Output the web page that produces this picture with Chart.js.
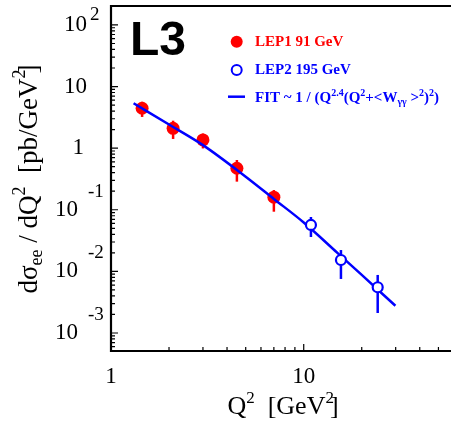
<!DOCTYPE html>
<html>
<head>
<meta charset="utf-8">
<script src="https://cdn.jsdelivr.net/npm/chart.js@4/dist/chart.umd.min.js"></script>
<style>
  html, body { margin: 0; padding: 0; background: #fff; overflow: hidden; }
  canvas { display: block; }
</style>
</head>
<body>
<canvas id="l3Chart" width="451" height="423"></canvas>
<script>
// values (Q^2 in GeV^2, dsigma/dQ^2 in pb/GeV^2)
const lep1Q2 = [1.45, 2.1, 3.0, 4.5, 7.0];
const lep1Sigma = [4.44, 2.10, 1.36, 0.472, 0.160];
const lep1Low = [3.21, 1.41, 0.99, 0.286, 0.093];
const lep1High = [5.67, 2.79, 1.73, 0.643, 0.209];

const lep2Q2 = [10.9, 15.6, 24.2];
const lep2Sigma = [0.0567, 0.0153, 0.00552];
const lep2Low = [0.0361, 0.00753, 0.00211];
const lep2High = [0.0764, 0.0222, 0.00875];

const fitQ2 = [1.31, 2, 3, 5, 7, 10, 15, 20, 29.9];
const fitSigma = [5.36, 2.42, 1.12, 0.344, 0.150, 0.0622, 0.0198, 0.00875, 0.00277];

const xMajor = [1, 10];
const xMinor = [2, 3, 4, 5, 6, 7, 8, 9, 20, 30, 40, 50];
const yExponents = [2, 1, 0, -1, -2, -3];

const RED = '#ff0000';
const BLUE = '#0000ff';
const SERIF = '"Liberation Serif", "Times New Roman", serif';

// draws a row of text pieces (normal / super / subscript) starting at x
function drawRuns(ctx, x, y, runs, align = 'left') {
    let total = 0;
    runs.forEach(r => {
        ctx.font = r.font;
        r.w = ctx.measureText(r.t).width + (r.gap || 0);
        total += r.w;
    });
    let cx = align === 'center' ? x - total / 2 : x;
    ctx.textAlign = 'left';
    runs.forEach(r => {
        ctx.font = r.font;
        ctx.fillText(r.t, cx, y + (r.dy || 0));
        cx += r.w;
    });
}

const l3Plugin = {
    id: 'l3Plugin',

    // error bars go under the markers
    beforeDatasetsDraw(chart) {
        const ctx = chart.ctx;
        const x = chart.scales.x, y = chart.scales.y;
        ctx.save();
        ctx.lineWidth = 2.5;
        const bars = (qs, lo, hi, color) => {
            ctx.strokeStyle = color;
            qs.forEach((q, i) => {
                const px = x.getPixelForValue(q);
                ctx.beginPath();
                ctx.moveTo(px, y.getPixelForValue(lo[i]));
                ctx.lineTo(px, y.getPixelForValue(hi[i]));
                ctx.stroke();
            });
        };
        bars(lep1Q2, lep1Low, lep1High, RED);
        bars(lep2Q2, lep2Low, lep2High, BLUE);
        ctx.restore();
    },

    afterDraw(chart) {
        const ctx = chart.ctx;
        const area = chart.chartArea;
        const x = chart.scales.x, y = chart.scales.y;
        ctx.save();

        // frame: left, bottom and top lines (right side is cut off in the original)
        ctx.strokeStyle = '#000';
        ctx.lineWidth = 2.2;
        ctx.beginPath();
        ctx.moveTo(area.right + 2, area.top);
        ctx.lineTo(area.left, area.top);
        ctx.lineTo(area.left, area.bottom);
        ctx.lineTo(area.right + 2, area.bottom);
        ctx.stroke();

        // inward ticks
        ctx.lineWidth = 1.2;
        ctx.beginPath();
        xMajor.forEach(v => {
            const px = x.getPixelForValue(v);
            ctx.moveTo(px, area.bottom); ctx.lineTo(px, area.bottom - 7);
        });
        xMinor.forEach(v => {
            const px = x.getPixelForValue(v);
            ctx.moveTo(px, area.bottom); ctx.lineTo(px, area.bottom - 4);
        });
        for (let e = -4; e <= 2; e++) {
            for (let k = 1; k <= 9; k++) {
                const v = k * Math.pow(10, e);
                if (v < y.min || v > y.max) continue;
                const py = y.getPixelForValue(v);
                ctx.moveTo(area.left, py);
                ctx.lineTo(area.left + (k === 1 ? 7 : 4), py);
            }
        }
        ctx.stroke();

        // x tick labels
        ctx.fillStyle = '#000';
        ctx.textBaseline = 'middle';
        ctx.textAlign = 'center';
        ctx.font = '23px ' + SERIF;
        xMajor.forEach(v => ctx.fillText(String(v), x.getPixelForValue(v), 377));

        // y tick labels, root style: "10" at the tick, exponent raised
        yExponents.forEach(e => {
            const py = y.getPixelForValue(Math.pow(10, e));
            ctx.font = '23px ' + SERIF;
            ctx.textAlign = 'right';
            if (e === 0) {
                ctx.fillText('1', 84, py);
            } else if (e > 0) {
                ctx.fillText('10', 87, py);
                if (e === 2) {
                    ctx.font = '19px ' + SERIF;
                    ctx.textAlign = 'left';
                    ctx.fillText('2', 90, py - 10);
                }
            } else {
                ctx.fillText('10', 78, py);
                ctx.font = '19px ' + SERIF;
                ctx.textAlign = 'left';
                ctx.fillText(String(e), 88, py - 18);
            }
        });

        // x title
        ctx.textBaseline = 'alphabetic';
        const big = '26px ' + SERIF, sup = '17px ' + SERIF;
        drawRuns(ctx, 283, 414, [
            { t: 'Q', font: big },
            { t: '2', font: sup, dy: -11 },
            { t: '  [GeV', font: big },
            { t: '2', font: sup, dy: -11, gap: -4 },
            { t: ']', font: big }
        ], 'center');

        // y title, rotated
        ctx.save();
        ctx.translate(37, 179);
        ctx.rotate(-Math.PI / 2);
        const yBig = '27px ' + SERIF, ySmall = '18px ' + SERIF;
        drawRuns(ctx, 0, 0, [
            { t: 'd\u03c3', font: yBig },
            { t: 'ee', font: ySmall, dy: 5 },
            { t: ' / dQ', font: yBig },
            { t: '2', font: ySmall, dy: -12 },
            { t: '  [pb/GeV', font: yBig },
            { t: '2', font: ySmall, dy: -12, gap: -4 },
            { t: ']', font: yBig }
        ], 'center');
        ctx.restore();

        // experiment tag
        ctx.font = 'bold 48px "Liberation Sans", Arial, sans-serif';
        ctx.textAlign = 'left';
        ctx.fillStyle = '#000';
        ctx.fillText('L3', 130, 55);

        // legend
        ctx.fillStyle = RED;
        ctx.beginPath();
        ctx.arc(236.7, 41.7, 6, 0, Math.PI * 2);
        ctx.fill();
        ctx.strokeStyle = BLUE;
        ctx.lineWidth = 2;
        ctx.beginPath();
        ctx.arc(236.7, 70, 5, 0, Math.PI * 2);
        ctx.stroke();
        ctx.lineWidth = 2.5;
        ctx.beginPath();
        ctx.moveTo(228, 96.7);
        ctx.lineTo(245, 96.7);
        ctx.stroke();

        const lg = 'bold 15px ' + SERIF, lgs = 'bold 10px ' + SERIF;
        ctx.textBaseline = 'middle';
        ctx.fillStyle = RED;
        drawRuns(ctx, 255, 42, [{ t: 'LEP1 91 GeV', font: lg }]);
        ctx.fillStyle = BLUE;
        drawRuns(ctx, 255, 70.5, [{ t: 'LEP2 195 GeV', font: lg }]);
        drawRuns(ctx, 255, 98, [
            { t: 'FIT ~ 1 / (Q', font: lg },
            { t: '2.4', font: lgs, dy: -5 },
            { t: '(Q', font: lg },
            { t: '2', font: lgs, dy: -5 },
            { t: '+<W', font: lg },
            { t: '\u03b3\u03b3', font: lgs, dy: 4 },
            { t: ' >', font: lg },
            { t: '2', font: lgs, dy: -5 },
            { t: ')', font: lg },
            { t: '2', font: lgs, dy: -5 },
            { t: ')', font: lg }
        ]);

        ctx.restore();
    }
};

class L3Chart {
    constructor() {
        this.$canvas = document.querySelector('#l3Chart');
        this.build();
    }

    toPoints(xs, ys) {
        return xs.map((q, i) => ({ x: q, y: ys[i] }));
    }

    build() {
        const data = {
            datasets: [{
                label: 'LEP1 91 GeV',
                data: this.toPoints(lep1Q2, lep1Sigma),
                showLine: false,
                pointRadius: 6.5,
                pointBackgroundColor: RED,
                pointBorderColor: RED,
                pointBorderWidth: 0,
                order: 3
            }, {
                label: 'FIT',
                data: this.toPoints(fitQ2, fitSigma),
                showLine: true,
                borderColor: BLUE,
                borderWidth: 2.5,
                pointRadius: 0,
                cubicInterpolationMode: 'monotone',
                order: 2
            }, {
                label: 'LEP2 195 GeV',
                data: this.toPoints(lep2Q2, lep2Sigma),
                showLine: false,
                pointRadius: 5,
                pointBackgroundColor: '#fff',
                pointBorderColor: BLUE,
                pointBorderWidth: 2.2,
                order: 1
            }]
        };
        new Chart(this.$canvas, {
            type: 'scatter',
            data,
            options: {
                responsive: false,
                animation: false,
                // no auto padding, so the plot frame sits exactly where the original has it
                layout: { autoPadding: false, padding: { left: 111, top: 6, right: 0, bottom: 72 } },
                plugins: { legend: { display: false }, tooltip: { enabled: false } },
                scales: {
                    x: { type: 'logarithmic', min: 1, max: 58.1, display: false },
                    y: { type: 'logarithmic', min: 0.00051, max: 203, display: false }
                }
            },
            plugins: [l3Plugin]
        });
    }
}

window.addEventListener('load', () => {
    new L3Chart();
});
</script>
</body>
</html>
